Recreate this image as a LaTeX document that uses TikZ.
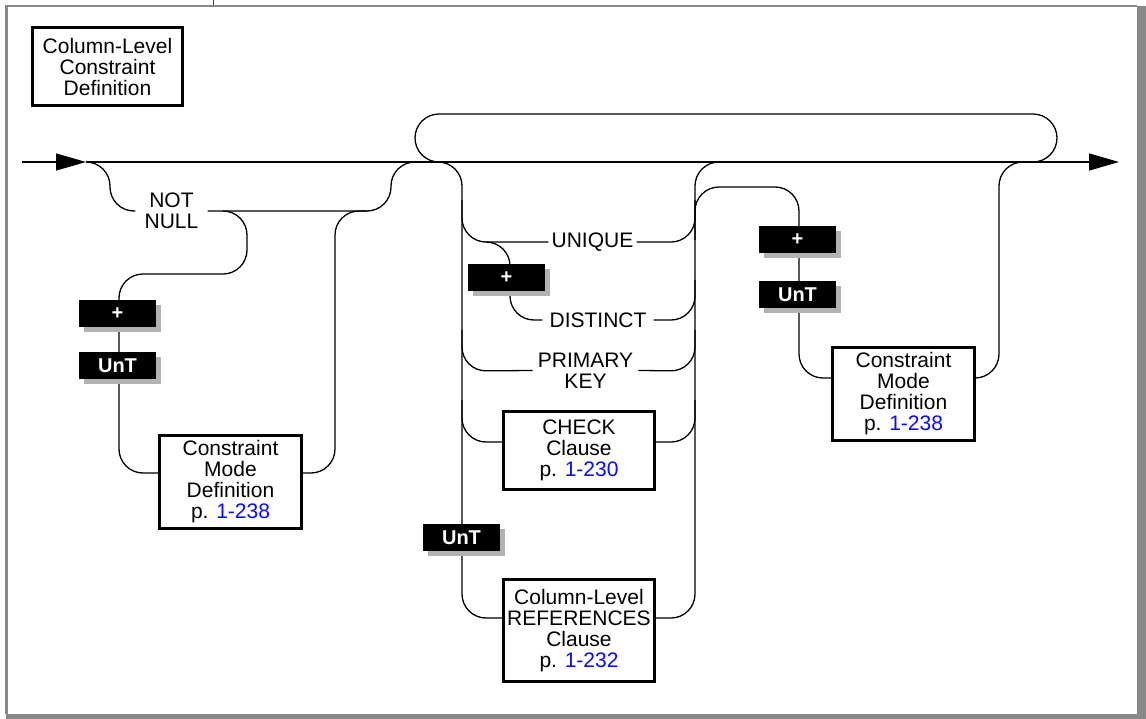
\documentclass[tikz,border=0pt]{standalone}
\usepackage{fontspec}
\setmainfont{Liberation Sans}
\usetikzlibrary{arrows.meta,shadows}
\definecolor{linkblue}{RGB}{10,10,255}
\definecolor{framegray}{RGB}{136,136,136}
\begin{document}
\begin{tikzpicture}[x=1pt,y=-1pt,
  every node/.style={font=\fontsize{21}{21}\selectfont},
  conn/.style={line width=1.3pt, rounded corners=24pt, line join=round},
  word/.style={align=center, inner xsep=4pt, inner ysep=0pt},
  refbox/.style={draw, line width=2.6pt, fill=white, align=center, inner sep=0pt},
  tagbox/.style={fill=black, text=white, font=\fontsize{20}{21}\selectfont\bfseries,
    minimum width=77pt, minimum height=27pt, inner sep=0pt,
    drop shadow={shadow xshift=5pt, shadow yshift=-5pt, fill=black!30, opacity=1}},
  tip/.style={-{Triangle[length=30pt,width=17pt]}}]

% page and frame
\useasboundingbox (0,0) rectangle (1146,719);
\fill[white] (0,0) rectangle (1146,719);
\fill[framegray] (1137,6) rectangle (1146,719);
\fill[framegray] (6,714) rectangle (1146,719);
\draw[framegray, line width=2.5pt] (6.25,714) -- (6.25,6.25) -- (1137,6.25);
\draw[black!75, line width=1pt] (213,0) -- (213,5);

% title
\node[refbox, minimum width=150.4pt, minimum height=78.4pt] (title) at (107.5,66.5)
  {Column-Level\\Constraint\\Definition};

% labels and boxes
\node[word, inner xsep=9pt] (notnull) at (171.5,211) {NOT\\NULL};
\node[word, inner xsep=3pt] (unique) at (592.5,242) {UNIQUE};
\node[word, inner xsep=7pt] (distinct) at (598,320) {DISTINCT};
\node[word, inner xsep=5pt] (primary) at (585.5,370.5) {PRIMARY\\KEY};
\node[refbox, minimum width=142.4pt, minimum height=93.4pt] (cm1) at (230.5,482)
  {Constraint\\Mode\\Definition\\p. {\color{linkblue}1-238}};
\node[refbox, minimum width=142.4pt, minimum height=93.4pt] (cm2) at (903.5,394)
  {Constraint\\Mode\\Definition\\p. {\color{linkblue}1-238}};
\node[refbox, minimum width=151.4pt, minimum height=78.4pt] (check) at (579,450.5)
  {CHECK\\Clause\\p. {\color{linkblue}1-230}};
\node[refbox, minimum width=151.4pt, minimum height=102.4pt] (ref) at (579,630.5)
  {Column-Level\\REFERENCES\\Clause\\p. {\color{linkblue}1-232}};

% main line
\coordinate (in) at (22,162);
\coordinate (a1) at (86,162);
\coordinate (out) at (1119,162);
\draw[line width=1.3pt, tip] (in) -- (a1);
\draw[line width=1.3pt, tip] (a1) -- (out);

% NOT NULL bypass
\draw[conn] (a1) -- (110,162) -- (110,211) -- (notnull.west);
\draw[conn] (notnull.east) -- (391,211) -- (391,162) -- (415,162);

% optional constraint mode after NOT NULL
\draw[conn] (223,211) -- (247,211) -- (247,274) -- (119,274) -- (119,473) -- ([yshift=9pt]cm1.west);
\draw[conn] ([yshift=9pt]cm1.east) -- (335,473) -- (335,211) -- (367,211);

% repetition loop
\draw[conn] (439,162) -- (415,162) -- (415,114) -- (1057,114) -- (1057,162) -- (1033,162);

% choice rails
\draw[conn] (437,162) -- (462,162) -- (462,618) -- ([yshift=12.5pt]ref.west);
\draw[conn] ([yshift=12.5pt]ref.east) -- (695,618) -- (695,162) -- (719,162);

% UNIQUE / DISTINCT
\draw[conn] (462,200) -- (462,242) -- (unique.west);
\draw[conn] (unique.east) -- (695,242) -- (695,200);
\draw[conn] (486,242) -- (510,242) -- (510,320) -- (distinct.west);
\draw[conn] (distinct.east) -- (695,320) -- (695,280);

% PRIMARY KEY
\draw[conn] (462,330) -- (462,371) -- (primary.west);
\draw[conn] (primary.east) -- (695,371) -- (695,330);

% CHECK
\draw[conn] (462,400) -- (462,442) -- ([yshift=8.5pt]check.west);
\draw[conn] ([yshift=8.5pt]check.east) -- (695,442) -- (695,400);

% optional constraint mode after the choice
\draw[conn] (695,240) -- (695,187) -- (799,187) -- (799,378) -- ([yshift=16pt]cm2.west);
\draw[conn] ([yshift=16pt]cm2.east) -- (999,378) -- (999,162) -- (1023,162);

% product tags
\node[tagbox] (p1) at (117.5,313.5) {+};
\node[tagbox] (u1) at (117.5,365.5) {UnT};
\node[tagbox] (p2) at (506.5,277.5) {+};
\node[tagbox] (u2) at (461.5,537.5) {UnT};
\node[tagbox] (p3) at (797.5,239.5) {+};
\node[tagbox] (u3) at (797.5,294.5) {UnT};

\end{tikzpicture}
\end{document}
